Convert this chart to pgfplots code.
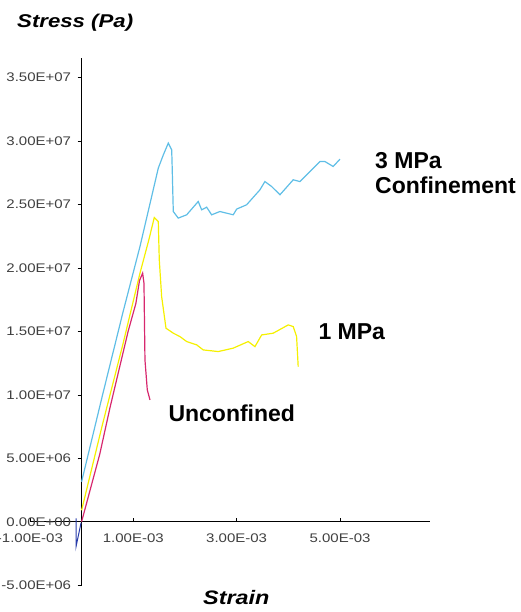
\documentclass[border=0pt]{standalone}
\usepackage{pgfplots}
\pgfplotsset{compat=1.18}
\usepackage{fontspec}
\setmainfont{Liberation Sans}
\newfontfamily\tickfont[FakeStretch=1.2]{Liberation Sans}
\newfontfamily\titlefont[FakeStretch=1.2]{Liberation Sans}
\definecolor{cyanline}{RGB}{95,190,230}
\definecolor{yellowline}{RGB}{245,240,0}
\definecolor{redline}{RGB}{215,40,110}
\definecolor{blueline}{RGB}{40,60,170}
\begin{document}
\begin{tikzpicture}[x=1pt,y=1pt]
\begin{axis}[
    at={(81.6pt,90.3pt)}, anchor=origin,
    scale only axis, width=400pt, height=527pt,
    xmin=-1e-3, xmax=6.74e-3,
    ymin=-5e6, ymax=3.654e7,
    axis lines=middle,
    axis line style={-, black, line width=0.8pt},
    scaled ticks=false,
    hide obscured x ticks=false, hide obscured y ticks=false,
    xtick={-1e-3,1e-3,3e-3,5e-3},
    xticklabels={-1.00E-03,1.00E-03,3.00E-03,5.00E-03},
    ytick={-5e6,0,5e6,1e7,1.5e7,2e7,2.5e7,3e7,3.5e7},
    yticklabels={-5.00E+06,0.00E+00,5.00E+06,1.00E+07,1.50E+07,2.00E+07,2.50E+07,3.00E+07,3.50E+07},
    xtick align=inside, ytick align=outside,
    major tick length=4pt,
    tick style={black, line width=0.6pt},
    tick label style={font=\tickfont\fontsize{12.5}{14}\selectfont, text=black!75},
    yticklabel style={anchor=east, xshift=-3pt},
    xticklabel style={anchor=north, yshift=-9pt},
    clip=false,
]
% 3 MPa confinement
\addplot[cyanline, line width=1.2pt] coordinates {
    (0,3.15e6) (0.4e-3,9.9e6) (0.8e-3,1.65e7) (1.13e-3,2.17e7)
    (1.484e-3,2.787e7) (1.58e-3,2.89e7) (1.677e-3,2.984e7) (1.743e-3,2.931e7)
    (1.749e-3,2.853e7) (1.774e-3,2.445e7) (1.870e-3,2.393e7) (2.033e-3,2.419e7)
    (2.257e-3,2.524e7) (2.323e-3,2.458e7) (2.420e-3,2.479e7) (2.516e-3,2.419e7)
    (2.677e-3,2.445e7) (2.934e-3,2.419e7) (3.0e-3,2.464e7) (3.193e-3,2.498e7)
    (3.451e-3,2.616e7) (3.547e-3,2.681e7) (3.677e-3,2.642e7) (3.838e-3,2.577e7)
    (4.095e-3,2.695e7) (4.224e-3,2.681e7) (4.418e-3,2.760e7) (4.611e-3,2.839e7)
    (4.708e-3,2.839e7) (4.868e-3,2.800e7) (5.0e-3,2.858e7)
};
% 1 MPa
\addplot[yellowline, line width=1.2pt] coordinates {
    (0,0.9e6) (0.4e-3,7.6e6) (0.8e-3,1.4e7) (1.13e-3,1.96e7) (1.3e-3,2.22e7)
    (1.406e-3,2.397e7) (1.484e-3,2.366e7) (1.503e-3,2.064e7) (1.549e-3,1.774e7)
    (1.633e-3,1.525e7) (1.774e-3,1.486e7) (1.903e-3,1.459e7) (2.033e-3,1.420e7)
    (2.226e-3,1.394e7) (2.354e-3,1.354e7) (2.644e-3,1.341e7) (2.934e-3,1.368e7)
    (3.224e-3,1.420e7) (3.354e-3,1.380e7) (3.484e-3,1.472e7) (3.708e-3,1.486e7)
    (3.998e-3,1.551e7) (4.095e-3,1.538e7) (4.160e-3,1.459e7) (4.191e-3,1.222e7)
};
% unconfined
\addplot[redline, line width=1.2pt] coordinates {
    (0,0) (0.35e-3,5.3e6) (0.55e-3,9.0e6) (0.9e-3,1.5e7) (1.05e-3,1.72e7)
    (1.12e-3,1.9e7) (1.181e-3,1.959e7) (1.207e-3,1.88e7) (1.226e-3,1.275e7)
    (1.271e-3,1.039e7) (1.323e-3,9.6e6)
};
% initial artefact
\addplot[blueline, line width=1.0pt] coordinates {
    (-0.108e-3,0.27e6) (-0.108e-3,-1.97e6) (-0.01e-3,-0.08e6)
};
\end{axis}
\node[anchor=base west, inner sep=0, font=\titlefont\bfseries\itshape\fontsize{18.5}{20}\selectfont] at (17,584) {Stress (Pa)};
\node[anchor=base west, inner sep=0, font=\titlefont\bfseries\itshape\fontsize{19.5}{21}\selectfont] at (203,7) {Strain};
\node[anchor=base west, inner sep=0, font=\bfseries\fontsize{23}{25}\selectfont] at (375,443.7) {3 MPa};
\node[anchor=base west, inner sep=0, font=\bfseries\fontsize{23}{25}\selectfont] at (375,418) {Confinement};
\node[anchor=base west, inner sep=0, font=\bfseries\fontsize{23}{25}\selectfont] at (318.3,272) {1 MPa};
\node[anchor=base west, inner sep=0, font=\bfseries\fontsize{23}{25}\selectfont] at (168.3,190.3) {Unconfined};
\pgfresetboundingbox
\path[use as bounding box] (0,0) rectangle (520,612);
\end{tikzpicture}
\end{document}
